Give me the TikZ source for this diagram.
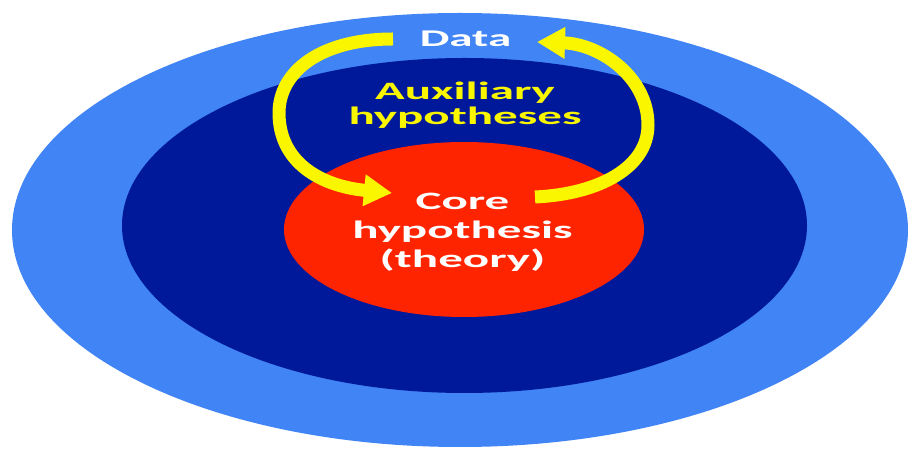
\documentclass[tikz,border=0pt]{standalone}
\usepackage{fontspec}
\setmainfont{Carlito}
\usepackage{graphicx}
\usetikzlibrary{arrows.meta,positioning}
\definecolor{skyblue}{RGB}{64,132,246}
\definecolor{deepblue}{RGB}{0,24,154}
\definecolor{corered}{RGB}{255,36,0}
\definecolor{loopyellow}{RGB}{250,246,0}
\newcommand{\wide}[1]{\scalebox{1.96}[1]{#1}}
\tikzset{cyclearrow/.style={line width=13pt, loopyellow, -{Triangle[length=28pt,width=30pt]}}}

\begin{document}
\begin{tikzpicture}[x=10pt,y=10pt]
\clip (0,0) rectangle (91,45.2);
\fill[white] (0,0) rectangle (91,45.2);

\fill[skyblue] (46.0,22.2) ellipse [x radius=44.8, y radius=21.7];
\fill[deepblue] (46.45,22.65) ellipse [x radius=34.25, y radius=16.75];
\fill[corered] (46.4,22.25) ellipse [x radius=18, y radius=8.75];

\node[anchor=base,font=\fontsize{24}{24}\selectfont\bfseries,white] (data) at (46.55,40.5) {\wide{Data}};
% base of a two/three line node is the last line
\node[anchor=base,font=\fontsize{25}{25}\selectfont\bfseries,loopyellow,align=center] (aux) at (46.5,32.7) {\wide{Auxiliary}\\\wide{hypotheses}};
\node[anchor=base,font=\fontsize{25}{29}\selectfont\bfseries,white,align=center] (core) at (46.25,18.4) {\wide{Core}\\\wide{hypothesis}\\\wide{(theory)}};

\coordinate (tailL) at (39.3,41.3);
\coordinate (tipL) at (39.2,25.9);
\coordinate (tailR) at (53.5,25.5);
\coordinate (tipR) at (53.7,41.0);

\draw[cyclearrow] (tailL) .. controls (32,41.3) and (27.9,38) .. (27.9,33.9)
                         .. controls (27.9,29) and (32,26.6) .. (tipL);
\draw[cyclearrow] (tailR) .. controls (60,25.8) and (64.8,28.5) .. (64.8,32.7)
                         .. controls (64.8,37.5) and (60,40.8) .. (tipR);
\end{tikzpicture}
\end{document}
